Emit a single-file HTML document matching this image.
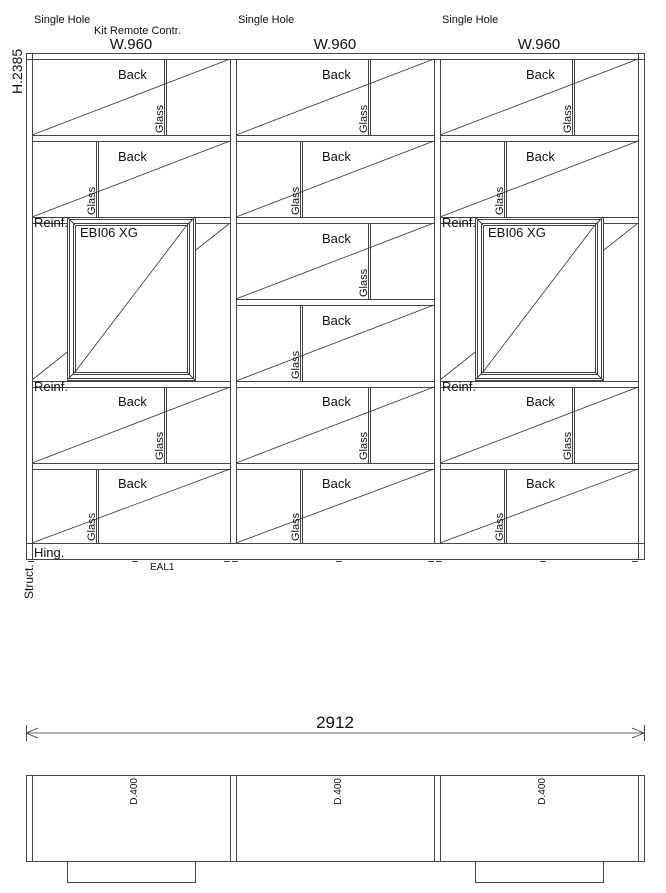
<!DOCTYPE html>
<html><head><meta charset="utf-8"><style>
html,body{margin:0;padding:0;background:#fff;width:666px;height:893px;overflow:hidden}
svg{display:block}
text{font-family:"Liberation Sans","DejaVu Sans",sans-serif;fill:#111}
</style></head><body>
<svg id="s" width="666" height="893" viewBox="0 0 666 893" xmlns="http://www.w3.org/2000/svg">
<g id="B" stroke="#333" stroke-width="0.8" fill="none"></g>
<g id="L" stroke="#444" stroke-width="1" fill="none" shape-rendering="crispEdges"></g>
<g id="D" stroke="#333" stroke-width="0.8" fill="none"></g>
<text x="34" y="23" font-size="11">Single Hole</text>
<text x="94" y="34" font-size="11">Kit Remote Contr.</text>
<text x="131" y="49" font-size="15" text-anchor="middle">W.960</text>
<text x="238" y="23" font-size="11">Single Hole</text>
<text x="335" y="49" font-size="15" text-anchor="middle">W.960</text>
<text x="442" y="23" font-size="11">Single Hole</text>
<text x="539" y="49" font-size="15" text-anchor="middle">W.960</text>
<text transform="translate(22,94) rotate(-90)" font-size="14">H.2385</text>
<g font-size="13">
<text x="118" y="79">Back</text><text x="118" y="161">Back</text><text x="118" y="406">Back</text><text x="118" y="488">Back</text>
<text x="322" y="79">Back</text><text x="322" y="161">Back</text><text x="322" y="243">Back</text><text x="322" y="325">Back</text><text x="322" y="406">Back</text><text x="322" y="488">Back</text>
<text x="526" y="79">Back</text><text x="526" y="161">Back</text><text x="526" y="406">Back</text><text x="526" y="488">Back</text>
</g>
<g font-size="11">
<text transform="translate(163,133) rotate(-90)">Glass</text>
<text transform="translate(95,215) rotate(-90)">Glass</text>
<text transform="translate(163,460) rotate(-90)">Glass</text>
<text transform="translate(95,541) rotate(-90)">Glass</text>
<text transform="translate(367,133) rotate(-90)">Glass</text>
<text transform="translate(299,215) rotate(-90)">Glass</text>
<text transform="translate(367,297) rotate(-90)">Glass</text>
<text transform="translate(299,379) rotate(-90)">Glass</text>
<text transform="translate(367,460) rotate(-90)">Glass</text>
<text transform="translate(299,541) rotate(-90)">Glass</text>
<text transform="translate(571,133) rotate(-90)">Glass</text>
<text transform="translate(503,215) rotate(-90)">Glass</text>
<text transform="translate(571,460) rotate(-90)">Glass</text>
<text transform="translate(503,541) rotate(-90)">Glass</text>
</g>
<g font-size="13">
<text x="34" y="227">Reinf.</text><text x="34" y="391">Reinf.</text>
<text x="442" y="227">Reinf.</text><text x="442" y="391">Reinf.</text>
<text x="80" y="237">EBI06 XG</text><text x="488" y="237">EBI06 XG</text>
<text x="34" y="557">Hing.</text>
</g>
<text x="150" y="570" font-size="10">EAL1</text>
<text transform="translate(33,599) rotate(-90)" font-size="12">Struct.</text>
<text x="335" y="728" font-size="17" text-anchor="middle">2912</text>
<g font-size="10">
<text transform="translate(137,778) rotate(-90)" text-anchor="end">D.400</text>
<text transform="translate(341,778) rotate(-90)" text-anchor="end">D.400</text>
<text transform="translate(545,778) rotate(-90)" text-anchor="end">D.400</text>
</g>
</svg>
<script>
var L=document.getElementById('L'),D=document.getElementById('D'),B=document.getElementById('B'),NS='http://www.w3.org/2000/svg';
function ln(g,x1,y1,x2,y2){var e=document.createElementNS(NS,'line');e.setAttribute('x1',x1);e.setAttribute('y1',y1);e.setAttribute('x2',x2);e.setAttribute('y2',y2);g.appendChild(e);}
function rect(g,x,y,w,h){var e=document.createElementNS(NS,'rect');e.setAttribute('x',x+.5);e.setAttribute('y',y+.5);e.setAttribute('width',w);e.setAttribute('height',h);g.appendChild(e);}
function h(x1,x2,y){ln(L,x1,y+.5,x2,y+.5);} function v(x,y1,y2){ln(L,x+.5,y1,x+.5,y2);}
h(26,645,53);h(26,645,59);
v(26,53,560);v(32,53,560);v(638,53,560);v(644,53,560);
v(230,59,543);v(236,59,543);v(434,59,543);v(440,59,543);
h(26,645,543);h(26,645,559);
var tops=[59,141,223,305,387,469],bots=[135,217,299,381,463,543];
for(var c=0;c<3;c++){var x0=32+204*c,x1=x0+198;
 for(var r=0;r<6;r++){
  var merged=(c!=1&&(r==2||r==3));
  if(r<5 && !(merged&&r==2)){h(x0,x1,bots[r]);h(x0,x1,tops[r+1]);}
  if(merged){ if(r==2) ln(B,x0,380,x1,223); continue;}
  ln(D,x0,bots[r],x1,tops[r]);
  var gx=x0+((r%2==0)?132:64);
  v(gx,tops[r],bots[r]);v(gx+2,tops[r],bots[r]);
 }
 if(c!=1){
  var bx=x0+35,by=217,bw=128,bh=163;
  var e=document.createElementNS(NS,'rect');e.setAttribute('x',bx+.5);e.setAttribute('y',by+.5);e.setAttribute('width',bw);e.setAttribute('height',bh);e.setAttribute('fill','#fff');L.appendChild(e);
  rect(L,bx+2,by+2,bw-4,bh-4);rect(L,bx+6,by+6,bw-12,bh-12);rect(L,bx+8,by+8,bw-16,bh-16);
  ln(L,bx,by,bx+8,by+8);ln(L,bx+bw,by,bx+bw-8,by+8);ln(L,bx,by+bh,bx+8,by+bh-8);ln(L,bx+bw,by+bh,bx+bw-8,by+bh-8);
  ln(D,bx+8,by+bh-8,bx+bw-8,by+8);
 }
 h(x0-4,x0+2,561);h(x0+100,x0+106,561);h(x1-6,x1,561);
}
ln(D,26,733,644,733);ln(L,26.5,725,26.5,741);ln(L,644.5,725,644.5,741);
ln(D,26,733,38,728);ln(D,26,733,38,738);ln(D,644,733,632,728);ln(D,644,733,632,738);
h(26,645,775);h(26,645,861);
[26,32,230,236,434,440,638,644].forEach(function(x){v(x,775,861);});
v(67,861,882);v(195,861,882);h(67,196,882);
v(475,861,882);v(603,861,882);h(475,604,882);
</script>
</body></html>
